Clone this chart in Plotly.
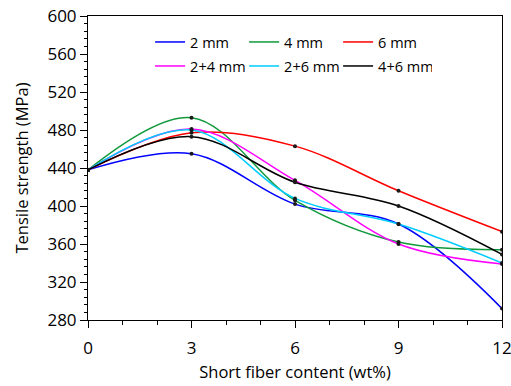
import plotly.graph_objects as go

x_vals = [0, 3, 6, 9, 12]
names = ["2 mm", "4 mm", "6 mm", "2+4 mm", "2+6 mm", "4+6 mm"]
colors = ["#0000FF", "#109A3C", "#FF0000", "#FF00FF", "#00CCFF", "#000000"]
s_2 = [438, 455, 402, 381, 292]
s_4 = [438, 493, 406, 362, 354]
s_6 = [438, 477, 463, 416, 373]
s_24 = [438, 481, 427, 360, 339]
s_26 = [438, 480, 408, 381, 340]
s_46 = [438, 473, 425, 400, 349]
series = [s_2, s_4, s_6, s_24, s_26, s_46]

fig = go.Figure()
for i, (n, c, s) in enumerate(zip(names, colors, series)):
    fig.add_trace(go.Scatter(
        x=x_vals, y=s, name=n, mode="lines",
        line=dict(color=c, width=1.5, shape="spline", smoothing=1),
        legend="legend" if i < 3 else "legend2",
    ))
for s in series:
    fig.add_trace(go.Scatter(
        x=x_vals, y=s, mode="markers", showlegend=False, hoverinfo="skip",
        marker=dict(color="#1a1a1a", size=4),
    ))

font_family = "Open Sans, Noto Sans, sans-serif"
leg_common = dict(
    orientation="h", xanchor="left", yanchor="top",
    entrywidth=49, entrywidthmode="pixels",
    font=dict(size=14.5), itemwidth=30,
    bgcolor="rgba(0,0,0,0)",
)
fig.update_layout(
    width=511, height=386,
    margin=dict(l=88, r=9, t=16, b=66),
    paper_bgcolor="white", plot_bgcolor="white",
    font=dict(family=font_family, size=16, color="#000"),
    legend=dict(x=0.15, y=0.967, **leg_common),
    legend2=dict(x=0.15, y=0.888, **leg_common),
    showlegend=True,
)
fig.update_xaxes(
    range=[0, 12], tickvals=[0, 3, 6, 9, 12],
    showline=True, linecolor="#000", linewidth=1, mirror=True,
    ticks="outside", ticklen=7, tickcolor="#000",
    minor=dict(dtick=1, ticks="outside", ticklen=4, tickcolor="#000"),
    showgrid=False, zeroline=False, automargin=False,
    ticklabeloverflow="allow", ticklabelstandoff=6,
    title=dict(text="Short fiber content (wt%)", font=dict(size=16.5), standoff=8),
    tickfont=dict(size=17),
)
fig.update_yaxes(
    range=[280, 600], dtick=40, tick0=280,
    showline=True, linecolor="#000", linewidth=1, mirror=True,
    ticks="outside", ticklen=7, tickcolor="#000",
    minor=dict(dtick=8, ticks="outside", ticklen=3, tickcolor="#000"),
    showgrid=False, zeroline=False, automargin=False,
    ticklabeloverflow="allow",
    title=dict(text="Tensile strength (MPa)", font=dict(size=16.5), standoff=14),
    tickfont=dict(size=17),
)
# remove the browser's default 8px page margin so the 511x386 figure fills the window
fig.write_html(
    "out.html",
    config={"displayModeBar": False},
    post_script="document.body.style.margin='0';document.documentElement.style.overflow='hidden';",
)
